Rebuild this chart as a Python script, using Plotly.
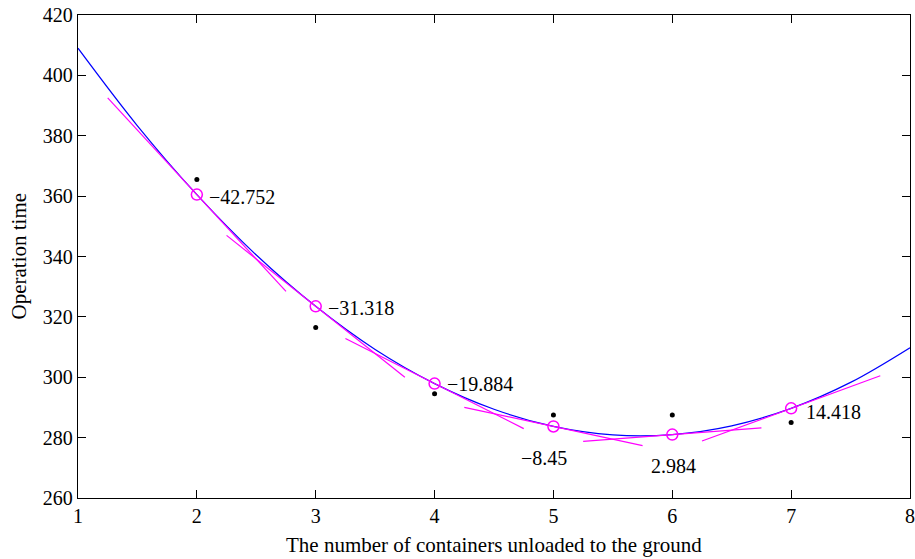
import plotly.graph_objects as go

# Fitted curve
curve_x = [1, 1.5, 2, 2.5, 3, 3.5, 4, 4.5, 5, 5.5, 6, 6.5, 7, 7.5, 8]
curve_y = [409.0, 383.3, 360.5, 340.5, 323.5, 309.2, 297.9, 289.4, 283.7, 280.9, 281.0, 283.9, 289.7, 298.3, 309.8]

# Observed data (black dots)
obs_x = [2, 3, 4, 5, 6, 7]
obs_y = [365.5, 316.5, 294.5, 287.5, 287.5, 285.0]

# Points on the curve with their slopes (magenta circles and labels)
pt_x = [2, 3, 4, 5, 6, 7]
pt_y = [360.5, 323.5, 297.9, 283.7, 281.0, 289.7]
slopes = [-42.752, -31.318, -19.884, -8.45, 2.984, 14.418]
slope_labels = ["\u221242.752", "\u221231.318", "\u221219.884", "\u22128.45", "2.984", "14.418"]
half_span = 0.75

x_ticks = [1, 2, 3, 4, 5, 6, 7, 8]
y_ticks = [260, 280, 300, 320, 340, 360, 380, 400, 420]

FONT = "Liberation Serif"
FS = 20

fig = go.Figure()

fig.add_trace(go.Scatter(x=curve_x, y=curve_y, mode="lines",
                         line=dict(color="#0000ff", width=1.2, shape="spline"),
                         showlegend=False, hoverinfo="skip"))

# tangent segments
for xi, yi, s in zip(pt_x, pt_y, slopes):
    fig.add_trace(go.Scatter(x=[xi - half_span, xi + half_span],
                             y=[yi - s * half_span, yi + s * half_span],
                             mode="lines", line=dict(color="#ff00ff", width=1.2),
                             showlegend=False, hoverinfo="skip"))

fig.add_trace(go.Scatter(x=obs_x, y=obs_y, mode="markers",
                         marker=dict(color="black", size=5),
                         showlegend=False))

fig.add_trace(go.Scatter(x=pt_x, y=pt_y, mode="markers",
                         marker=dict(symbol="circle-open", color="#ff00ff", size=11,
                                     line=dict(width=1.5, color="#ff00ff")),
                         showlegend=False))

# labels
label_pos = [
    dict(xanchor="left", yanchor="middle", xshift=10, yshift=-2),
    dict(xanchor="left", yanchor="middle", xshift=10, yshift=-2),
    dict(xanchor="left", yanchor="middle", xshift=10, yshift=0),
    dict(xanchor="center", yanchor="middle", xshift=-9, yshift=-32),
    dict(xanchor="center", yanchor="middle", xshift=1, yshift=-31),
    dict(xanchor="left", yanchor="middle", xshift=13, yshift=-4),
]
for xi, yi, lab, pos in zip(pt_x, pt_y, slope_labels, label_pos):
    fig.add_annotation(x=xi, y=yi, text=lab, showarrow=False,
                       font=dict(family=FONT, size=FS, color="black"), **pos)

# axis titles
fig.add_annotation(xref="paper", yref="paper", x=0.5, y=0, yshift=-47,
                   text="The number of containers unloaded to the ground",
                   showarrow=False, xanchor="center", yanchor="middle",
                   font=dict(family=FONT, size=21, color="black"))
fig.add_annotation(xref="paper", yref="paper", x=0, y=0.5, xshift=-60,
                   text="Operation time", textangle=-90,
                   showarrow=False, xanchor="center", yanchor="middle",
                   font=dict(family=FONT, size=21, color="black"))

axis_common = dict(showgrid=False, zeroline=False, showline=True, linecolor="black",
                   linewidth=1.3, mirror="allticks", ticks="inside", ticklen=8,
                   tickcolor="black", tickwidth=1.2, automargin=False,
                   ticklabeloverflow="allow",
                   tickfont=dict(family=FONT, size=FS, color="black"))

fig.update_xaxes(range=[1, 8], tickvals=x_ticks, **axis_common)
fig.update_yaxes(range=[260, 420], tickvals=y_ticks, **axis_common)

fig.update_layout(width=915, height=559, plot_bgcolor="white", paper_bgcolor="white",
                  margin=dict(l=78, r=5, t=15, b=61), showlegend=False)

fig.write_html("out.html", config={"displayModeBar": False},
               post_script="document.body.style.margin='0';")
